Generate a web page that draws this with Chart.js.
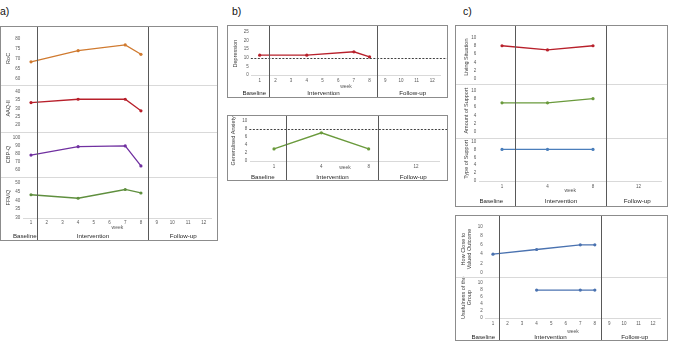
<!DOCTYPE html>
<html>
<head>
<meta charset="utf-8">
<script src="https://cdn.jsdelivr.net/npm/chart.js@4"></script>
<style>
body{margin:0;width:676px;height:352px;background:#fff;position:relative;overflow:hidden;font-family:"Liberation Sans",Arial,sans-serif}
.box{position:absolute}
.lbl{position:absolute;font-size:10.5px;line-height:10.5px;color:#111}
</style>
</head>
<body>
<div class="lbl" style="left:0px;top:6px">a)</div>
<div class="lbl" style="left:232px;top:6px">b)</div>
<div class="lbl" style="left:463px;top:6px">c)</div>

<div class="box" style="left:0px;top:26px;width:218px;height:215px"><canvas id="chartA"></canvas></div>
<div class="box" style="left:227px;top:25px;width:221px;height:73px"><canvas id="chartDep"></canvas></div>
<div class="box" style="left:227px;top:115px;width:221px;height:66px"><canvas id="chartAnx"></canvas></div>
<div class="box" style="left:455px;top:25px;width:213px;height:182px"><canvas id="chartSup"></canvas></div>
<div class="box" style="left:455px;top:215px;width:213px;height:126px"><canvas id="chartVal"></canvas></div>

<script>
/* Data */
const weeks = [1, 2, 3, 4, 5, 6, 7, 8, 9, 10, 11, 12];
const assessWeeks = [1, 4, 7, 8];
const phaseLabels = ["Baseline", "Intervention", "Follow-up"];

const rocValues = [68.5, 74, 76.8, 72.2];
const aaqValues = [33.5, 35.5, 35.5, 28.5];
const cbpqValues = [78, 88.5, 89.5, 64.5];
const ffmqValues = [43.3, 41.3, 46.3, 44.3];
const rocTicks = [60, 65, 70, 75, 80];
const aaqTicks = [20, 25, 30, 35, 40];
const cbpqTicks = [60, 70, 80, 90, 100];
const ffmqTicks = [30, 35, 40, 45, 50];

const depressionValues = [11.5, 11.5, 13.5, 10.5];
const depressionCutoff = 10;
const depressionTicks = [0, 5, 10, 15, 20, 25];

const shortWeeks = ["1", "4", "8", "12"];
const anxietyValues = [3, 7, 3, null];
const anxietyCutoff = 8;

const livingValues = [8, 7, 8, null];
const amountValues = [7, 7, 8, null];
const typeValues = [8, 8, 8, null];

const closeValues = [4, 5, 6, 6];
const usefulWeeks = [4, 7, 8];
const usefulValues = [8, 8, 8];
const tenTicks = [0, 2, 4, 6, 8, 10];

/* Utilities */
Chart.defaults.font.family = '"Liberation Sans", Arial, sans-serif';
Chart.defaults.color = '#595959';
Chart.defaults.animation = false;

const tickFont = {size: 4.5};
const titleFont = {size: 5.5};

function pts(xs, ys){
    return xs.map((x, i) => ({x: x, y: ys[i]}))
}

function fixedTicks(values){
    return function(s){ s.ticks = values.map(v => ({value: v})) }
}

function yAxis(title, ticks, min, max, stackWeight, order, width, titlePad){
    return {
        type: 'linear', position: 'left', stack: 'rows', stackWeight: stackWeight, weight: order,
        min: min, max: max, bounds: 'data',
        afterBuildTicks: fixedTicks(ticks),
        afterFit: function(s){ s.width = width },
        grid: {display: false, drawTicks: false},
        border: {display: false},
        ticks: {font: tickFont, padding: 3, autoSkip: false},
        title: {display: true, text: title, font: titleFont, color: '#404040', padding: {top: titlePad, bottom: 0}}
    }
}

function xAxis(linear, height, tickPad){
    var ax = {
        afterFit: function(s){ s.height = height },
        grid: {display: false, drawTicks: false},
        border: {color: '#d9d9d9'},
        ticks: {font: tickFont, padding: tickPad, maxRotation: 0, autoSkip: false},
        title: {display: true, text: 'week', font: {size: 5}, color: '#595959', padding: 0}
    }
    if(linear){
        ax.type = 'linear'; ax.min = 0.5; ax.max = 12.5; ax.bounds = 'data';
        ax.afterBuildTicks = fixedTicks(weeks);
    }else{
        ax.type = 'category'; ax.offset = true;
    }
    return ax;
}

function series(data, color, yAxisID){
    return {
        data: data, yAxisID: yAxisID,
        borderColor: color, backgroundColor: color, borderWidth: 1.3,
        pointRadius: 1.6, pointBorderWidth: 0, pointHoverRadius: 1.6, tension: 0
    }
}

/* box, phase dividers, separators, cutoff line and phase labels */
const framePlugin = {
    id: 'frame',
    afterDraw(chart, args, opts){
        const ctx = chart.ctx, W = chart.width, H = chart.height, area = chart.chartArea;
        const x = chart.scales.x;
        ctx.save();
        ctx.lineWidth = 1;
        ctx.strokeStyle = '#d9d9d9';
        const ys = Object.values(chart.scales).filter(s => s.axis === 'y').sort((a, b) => a.top - b.top);
        ys.slice(1).forEach(s => {
            const y = Math.round(s.top) + 0.5;
            ctx.beginPath(); ctx.moveTo(0, y); ctx.lineTo(W, y); ctx.stroke();
        })
        if(opts.cutoff != null){
            const y = Math.round(ys[0].getPixelForValue(opts.cutoff)) + 0.5;
            ctx.strokeStyle = '#404040';
            ctx.setLineDash([2, 1.5]);
            ctx.beginPath(); ctx.moveTo(area.left - 1, y); ctx.lineTo(W, y); ctx.stroke();
            ctx.setLineDash([]);
        }
        const px = opts.dividers.map(v => Math.round(x.getPixelForValue(v)) + 0.5);
        ctx.strokeStyle = '#595959';
        px.forEach(p => { ctx.beginPath(); ctx.moveTo(p, 0); ctx.lineTo(p, H); ctx.stroke(); })
        ctx.fillStyle = '#262626';
        ctx.font = '6.2px "Liberation Sans", Arial, sans-serif';
        ctx.textAlign = 'center';
        ctx.textBaseline = 'middle';
        const centers = [px[0] / 2 + 6, (px[0] + px[1]) / 2, (px[1] + W) / 2];
        phaseLabels.forEach((t, i) => ctx.fillText(t, centers[i], H - opts.labelGap));
        ctx.strokeStyle = '#8c8c8c';
        ctx.strokeRect(0.5, 0.5, W - 1, H - 1);
        ctx.restore();
    }
};

function makeChart(id, data, scales, padding, frame){
    return new Chart(document.getElementById(id), {
        type: 'line',
        data: data,
        options: {
            responsive: true, maintainAspectRatio: false,
            layout: {padding: padding, autoPadding: false},
            scales: scales,
            plugins: {legend: {display: false}, tooltip: {enabled: false}, frame: frame}
        },
        plugins: [framePlugin]
    });
}

/* a) */
makeChart('chartA', {
    datasets: [
        series(pts(assessWeeks, rocValues), '#d07a2f', 'yRoc'),
        series(pts(assessWeeks, aaqValues), '#b8202b', 'yAaq'),
        series(pts(assessWeeks, cbpqValues), '#7030a0', 'yCbp'),
        series(pts(assessWeeks, ffmqValues), '#5f8f3e', 'yFfmq')
    ]
}, {
    x: xAxis(true, 13, 2),
    yRoc: yAxis('RoC', rocTicks, 57.1, 83.3, 55, 4, 23.15, 5.5),
    yAaq: yAxis('AAQ-II', aaqTicks, 15.9, 44.1, 48, 3, 23.15, 5.5),
    yCbp: yAxis('CBP-Q', cbpqTicks, 50.3, 107.3, 47, 2, 23.15, 5.5),
    yFfmq: yAxis('FFMQ', ffmqTicks, 30, 53.3, 42, 1, 23.15, 5.5)
}, {left: 0, right: 6.4, top: 0, bottom: 10}, {dividers: [1.38, 8.45], labelGap: 5});

/* b) */
makeChart('chartDep', {
    datasets: [series(pts(assessWeeks, depressionValues), '#b8202b', 'y')]
}, {
    x: xAxis(true, 15, 3),
    y: yAxis('Depression', depressionTicks, 0, 25, 1, 1, 24.85, 5.4)
}, {left: 0, right: 7.8, top: 7, bottom: 8}, {dividers: [1.6, 8.47], cutoff: depressionCutoff, labelGap: 5});

makeChart('chartAnx', {
    labels: shortWeeks,
    datasets: [series(anxietyValues, '#6a9a3c', 'y')]
}, {
    x: xAxis(false, 10, 3),
    y: yAxis('Generalised Anxiety', tenTicks, 0, 10, 1, 1, 23.35, 2.7)
}, {left: 0, right: 8.4, top: 4, bottom: 10}, {dividers: [0.25, 2.2], cutoff: anxietyCutoff, labelGap: 3.5});

/* c) */
makeChart('chartSup', {
    labels: shortWeeks,
    datasets: [
        series(livingValues, '#b8202b', 'yLiv'),
        series(amountValues, '#6a9a3c', 'yAmt'),
        series(typeValues, '#4a7ebb', 'yTyp')
    ]
}, {
    x: xAxis(false, 13, 3),
    yLiv: yAxis('Living Situation', tenTicks, -1.16, 11.63, 55, 3, 24.25, 7.7),
    yAmt: yAxis('Amount of Support', tenTicks, -1.4, 11.63, 56, 2, 24.25, 7.7),
    yTyp: yAxis('Type of Support', tenTicks, 0, 10.98, 45, 1, 24.25, 7.7)
}, {left: 0, right: 6.75, top: 0, bottom: 13}, {dividers: [0.29, 2.29], labelGap: 6});

makeChart('chartVal', {
    datasets: [
        series(pts(assessWeeks, closeValues), '#4a72b0', 'yClose'),
        series(pts(usefulWeeks, usefulValues), '#4a72b0', 'yUse')
    ]
}, {
    x: xAxis(true, 17, 3),
    yClose: yAxis(['How Close to', 'Valued Outcome'], tenTicks, -1.02, 11.22, 60, 2, 30.7, 4.7),
    yUse: yAxis(['Usefulness of the', 'Group'], tenTicks, 0, 11.62, 43, 1, 30.7, 4.7)
}, {left: 0, right: 7.7, top: 0, bottom: 6}, {dividers: [1.41, 8.45], labelGap: 4});
</script>
</body>
</html>
